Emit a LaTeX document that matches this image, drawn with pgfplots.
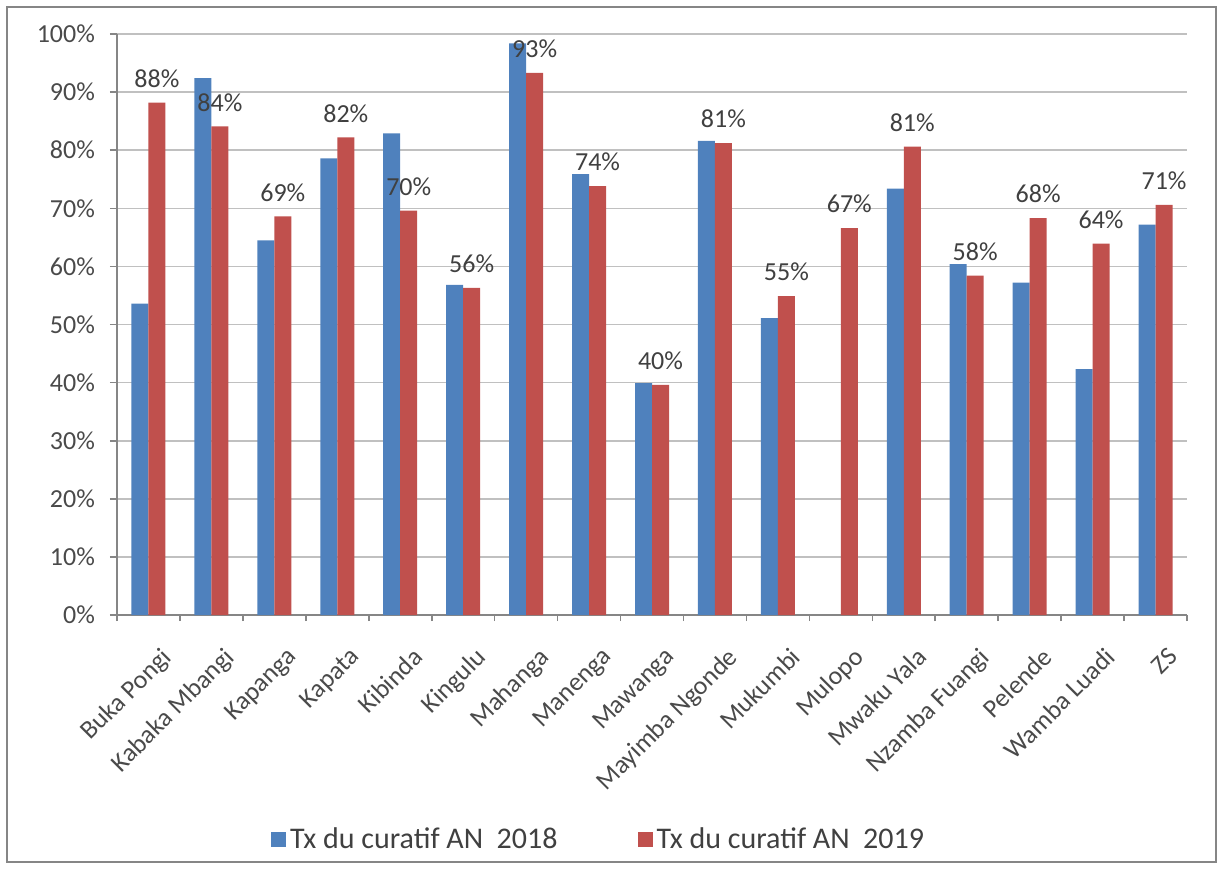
\documentclass[border=0pt]{standalone}
\usepackage{fontspec}
\setmainfont{Carlito}
\usepackage{pgfplots}
\pgfplotsset{compat=1.18}
\definecolor{bl}{HTML}{4F81BD}
\definecolor{rd}{HTML}{C0504D}
\definecolor{gridc}{HTML}{C0C0C0}
\definecolor{axc}{HTML}{868686}
\definecolor{txt}{HTML}{404040}
\definecolor{tickc}{HTML}{4A4A4A}

\begin{document}
\begin{tikzpicture}
\begin{axis}[
    name=ax,
    scale only axis,
    width=535pt, height=290.5pt,
    ybar=0pt, bar width=8.5pt,
    xmin=-0.5, xmax=16.5,
    ymin=0, ymax=100,
    axis x line*=bottom, axis y line*=left,
    axis line style={axc, line width=0.8pt},
    tick align=outside,
    tick style={axc, line width=0.8pt},
    major tick length=3.5pt, minor tick length=3pt,
    ytick={0,10,...,100},
    yticklabel={\pgfmathprintnumber{\tick}\%},
    /pgf/number format/assume math mode=true,
    ymajorgrids, grid style={gridc, line width=0.8pt},
    xtick={0,...,16},
    major x tick style={draw=none},
    minor xtick={-0.5,0.5,...,16.5},
    xticklabels={Buka Pongi, Kabaka Mbangi, Kapanga, Kapata, Kibinda, Kingulu, Mahanga, Manenga, Mawanga, Mayimba Ngonde, Mukumbi, Mulopo, Mwaku Yala, Nzamba Fuangi, Pelende, Wamba Luadi, ZS},
    tick label style={font=\fontsize{13}{15}\selectfont, text=tickc},
    xticklabel style={rotate=45, anchor=north east, yshift=-9pt, xshift=-1pt},
    yticklabel style={xshift=-4pt},
    legend style={at={(0.451,-0.387)}, anchor=center, draw=none, fill=none,
        legend columns=2, font=\fontsize{15}{17}\selectfont, text=txt,
        /tikz/every even column/.append style={column sep=38pt}},
    legend image code/.code={\fill[#1] (0pt,-3.75pt) rectangle (7.5pt,3.75pt);},
]
\addplot[fill=bl, draw=none] coordinates {
    (0,53.6) (1,92.4) (2,64.5) (3,78.6) (4,82.9) (5,56.8) (6,98.4) (7,75.9)
    (8,39.9) (9,81.6) (10,51.1) (12,73.4) (13,60.4) (14,57.2) (15,42.3) (16,67.2)
};
\addplot[fill=rd, draw=none,
    nodes near coords={\pgfmathprintnumber[fixed,precision=0]{\pgfplotspointmeta}\%},
    nodes near coords style={font=\fontsize{13}{15}\selectfont, text=txt, yshift=4pt}] coordinates {
    (0,88.2) (1,84.1) (2,68.6) (3,82.2) (4,69.6) (5,56.3) (6,93.3) (7,73.8)
    (8,39.6) (9,81.2) (10,54.9) (11,66.6) (12,80.6) (13,58.4) (14,68.3) (15,63.9) (16,70.6)
};
\legend{Tx du curatif AN~~2018, Tx du curatif AN~~2019}
\end{axis}
\draw[axc, line width=1pt] ([shift={(-55pt,-123.5pt)}]ax.south west) rectangle ([shift={(14.5pt,13.5pt)}]ax.north east);
\pgfresetboundingbox
\path ([shift={(-58.5pt,-126.5pt)}]ax.south west) rectangle ([shift={(16.5pt,17pt)}]ax.north east);
\end{tikzpicture}
\end{document}
